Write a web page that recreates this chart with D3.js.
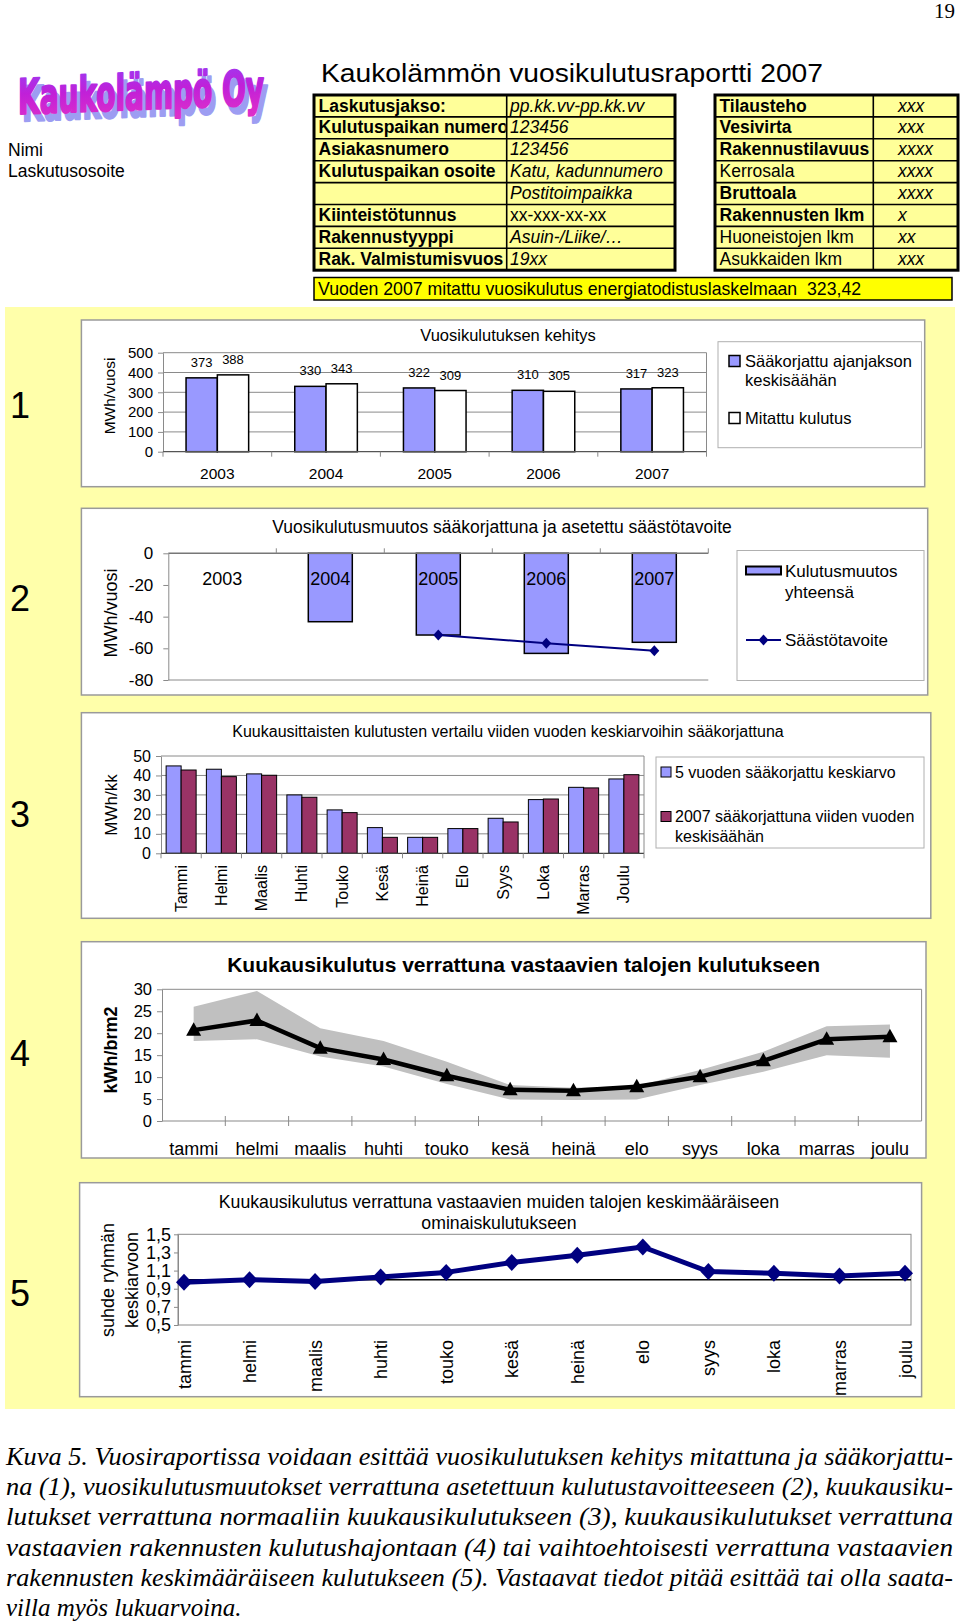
<!DOCTYPE html>
<html><head><meta charset="utf-8">
<script src="https://cdn.jsdelivr.net/npm/d3@7"></script>
<style>
body{margin:0;background:#fff;}
svg{display:block;}
text{font-family:"Liberation Sans",Arial,sans-serif;}
</style>
</head><body>
<svg id="c" width="960" height="1624"></svg>
<script>
// ---------- DATA ----------
const pageNumber = '19';
const companyName = 'Kaukolämpö Oy';
const customerLines = ['Nimi', 'Laskutusosoite'];
const reportTitle = 'Kaukolämmön vuosikulutusraportti 2007';
const leftLabels = ['Laskutusjakso:', 'Kulutuspaikan numero', 'Asiakasnumero', 'Kulutuspaikan osoite', '', 'Kiinteistötunnus', 'Rakennustyyppi', 'Rak. Valmistumisvuos'];
const leftValues = ['pp.kk.vv-pp.kk.vv', '123456', '123456', 'Katu, kadunnumero', 'Postitoimpaikka', 'xx-xxx-xx-xx', 'Asuin-/Liike/…', '19xx'];
const leftValueItalic = [true, true, true, true, true, false, true, true];
const rightLabels = ['Tilausteho', 'Vesivirta', 'Rakennustilavuus', 'Kerrosala', 'Bruttoala', 'Rakennusten lkm', 'Huoneistojen lkm', 'Asukkaiden lkm'];
const rightLabelBold = [true, true, true, false, true, true, false, false];
const rightValues = ['xxx', 'xxx', 'xxxx', 'xxxx', 'xxxx', 'x', 'xx', 'xxx'];
const summaryText = 'Vuoden 2007 mitattu vuosikulutus energiatodistuslaskelmaan  323,42';

// chart 1
const chart1Title = 'Vuosikulutuksen kehitys';
const years = ['2003', '2004', '2005', '2006', '2007'];
const weatherCorrected = [373, 330, 322, 310, 317];
const measured = [388, 343, 309, 305, 323];
const chart1Legend = [['Sääkorjattu ajanjakson', 'keskisäähän'], ['Mitattu kulutus']];
const chart1Ticks = [0, 100, 200, 300, 400, 500];

// chart 2
const chart2Title = 'Vuosikulutusmuutos sääkorjattuna ja asetettu säästötavoite';
const totalChange = [0, -43.2, -51.6, -63.2, -56.2];
const savingTarget = [null, null, -51.6, -56.8, -61.5];
const chart2Legend = [['Kulutusmuutos', 'yhteensä'], ['Säästötavoite']];
const chart2Ticks = [0, -20, -40, -60, -80];

// chart 3
const chart3Title = 'Kuukausittaisten kulutusten vertailu viiden vuoden keskiarvoihin sääkorjattuna';
const monthsCap = ['Tammi', 'Helmi', 'Maalis', 'Huhti', 'Touko', 'Kesä', 'Heinä', 'Elo', 'Syys', 'Loka', 'Marras', 'Joulu'];
const avg5Years = [44.9, 43.2, 40.8, 30.0, 22.3, 13.2, 8.2, 12.7, 18.0, 27.6, 33.9, 38.2];
const corrected2007 = [42.8, 39.4, 40.1, 28.8, 20.9, 8.2, 8.2, 12.7, 16.1, 27.9, 33.6, 40.4];
const chart3Legend = [['5 vuoden sääkorjattu keskiarvo'], ['2007 sääkorjattuna viiden vuoden', 'keskisäähän']];
const chart3Ticks = [0, 10, 20, 30, 40, 50];

// chart 4
const chart4Title = 'Kuukausikulutus verrattuna vastaavien talojen kulutukseen';
const months = ['tammi', 'helmi', 'maalis', 'huhti', 'touko', 'kesä', 'heinä', 'elo', 'syys', 'loka', 'marras', 'joulu'];
const ownConsumption = [20.7, 22.9, 16.6, 14.0, 10.3, 7.1, 6.9, 7.8, 10.1, 13.7, 18.6, 19.2];
const groupHigh = [26.0, 29.6, 21.1, 18.2, 13.5, 8.2, 7.6, 8.0, 11.6, 15.8, 21.6, 22.0];
const groupLow = [18.2, 18.6, 14.7, 12.4, 8.4, 4.9, 4.8, 4.9, 8.2, 11.2, 15.0, 14.4];
const chart4Ticks = [0, 5, 10, 15, 20, 25, 30];

// chart 5
const chart5Title = ['Kuukausikulutus verrattuna vastaavien muiden talojen keskimääräiseen', 'ominaiskulutukseen'];
const ratioToGroup = [0.97, 1.00, 0.98, 1.03, 1.08, 1.19, 1.27, 1.36, 1.09, 1.07, 1.04, 1.07];
const chart5Ticks = [0.5, 0.7, 0.9, 1.1, 1.3, 1.5];

const captionLines = [
  'Kuva 5. Vuosiraportissa voidaan esittää vuosikulutuksen kehitys mitattuna ja sääkorjattu-',
  'na (1), vuosikulutusmuutokset verrattuna asetettuun kulutustavoitteeseen (2), kuukausiku-',
  'lutukset verrattuna normaaliin kuukausikulutukseen (3), kuukausikulutukset verrattuna',
  'vastaavien rakennusten kulutushajontaan (4) tai vaihtoehtoisesti verrattuna vastaavien',
  'rakennusten keskimääräiseen kulutukseen (5). Vastaavat tiedot pitää esittää tai olla saata-',
  'villa myös lukuarvoina.'
];

// ---------- DRAWING ----------
const SANS = '"Liberation Sans", Arial, sans-serif';
const svg = d3.select('#c');
const defs = svg.append('defs');
const fmtComma = d3.formatLocale({decimal: ',', thousands: ' ', grouping: [3], currency: ['', '']}).format('.1f');
const GRID = '#8a8a8a';

function txt(parent, x, y, s, size, opts = {}) {
  const t = parent.append('text').attr('x', x).attr('y', y).text(s)
    .style('font-size', size + 'px').attr('fill', opts.fill || '#000');
  if (opts.anchor) t.attr('text-anchor', opts.anchor);
  if (opts.bold) t.style('font-weight', 'bold');
  if (opts.italic) t.style('font-style', 'italic');
  if (opts.family) t.style('font-family', opts.family);
  if (opts.pre) t.style('white-space', 'pre');
  return t;
}
function styleAxis(g, size) {
  g.attr('font-family', SANS).attr('font-size', size);
  g.selectAll('text').attr('fill', '#000');
  g.selectAll('line').attr('stroke', GRID);
  g.select('.domain').attr('stroke', GRID);
}
function chartBox(x, y, w, h) {
  svg.append('rect').attr('x', x).attr('y', y).attr('width', w).attr('height', h)
    .attr('fill', '#fff').attr('stroke', '#9a9a9a').attr('stroke-width', 1.5);
}
function legendBox(x, y, w, h) {
  svg.append('rect').attr('x', x).attr('y', y).attr('width', w).attr('height', h)
    .attr('fill', '#fff').attr('stroke', '#b0b0b0').attr('stroke-width', 1);
  return svg.append('g');
}
const plainFmt = d => String(d);

// page number
txt(svg, 955, 18, pageNumber, 21, {anchor: 'end', family: '"Liberation Serif", serif'});

// logo
const grad = defs.append('linearGradient').attr('id', 'logoGrad').attr('x1', 0).attr('y1', 0).attr('x2', 0).attr('y2', 1);
grad.append('stop').attr('offset', '0%').attr('stop-color', '#9a3cf4');
grad.append('stop').attr('offset', '45%').attr('stop-color', '#c020d8');
grad.append('stop').attr('offset', '100%').attr('stop-color', '#e030c8');
const logo = svg.append('g').attr('transform', 'translate(18,114) skewY(-2.2) scale(1,1.35)');
[['#9d9df2', 4, 5.5], ['url(#logoGrad)', 0, 0]].forEach(([fill, dx, dy]) => {
  logo.append('text').attr('x', dx).attr('y', dy).text(companyName)
    .attr('fill', fill).attr('stroke', fill).attr('stroke-width', 1.6).attr('stroke-linejoin', 'round')
    .style('font-family', '"Liberation Sans Narrow","DejaVu Sans Condensed","Liberation Sans",sans-serif')
    .style('font-weight', 'bold').style('font-size', '36px')
    .attr('textLength', 246).attr('lengthAdjust', 'spacingAndGlyphs');
});
customerLines.forEach((s, i) => txt(svg, 8, 156 + i * 21, s, 17.5));

// title
txt(svg, 321, 82, reportTitle, 25).attr('textLength', 502).attr('lengthAdjust', 'spacingAndGlyphs');

// tables
const rowTop = 95, rowH = 21.9, nRows = 8;
function drawTable(x0, xs, x2, labels, values, labelBold, valueItalic, valueX, id) {
  const g = svg.append('g');
  g.append('rect').attr('x', x0).attr('y', rowTop).attr('width', x2 - x0).attr('height', rowH * nRows).attr('fill', '#FFFF99');
  defs.append('clipPath').attr('id', id).append('rect').attr('x', x0).attr('y', rowTop).attr('width', xs - x0 - 1).attr('height', rowH * nRows);
  const lg = g.append('g').attr('clip-path', `url(#${id})`);
  labels.forEach((s, i) => {
    const y = rowTop + i * rowH + 16.5;
    txt(lg, x0 + 4.5, y, s, 17.5, {bold: labelBold[i]});
    txt(g, valueX, y, values[i], 17.5, {italic: valueItalic[i]});
  });
  for (let i = 1; i < nRows; i++) {
    g.append('line').attr('x1', x0).attr('x2', x2).attr('y1', rowTop + i * rowH).attr('y2', rowTop + i * rowH).attr('stroke', '#000').attr('stroke-width', 1.6);
  }
  g.append('line').attr('x1', xs).attr('x2', xs).attr('y1', rowTop).attr('y2', rowTop + rowH * nRows).attr('stroke', '#000').attr('stroke-width', 1.6);
  g.append('rect').attr('x', x0).attr('y', rowTop).attr('width', x2 - x0).attr('height', rowH * nRows).attr('fill', 'none').attr('stroke', '#000').attr('stroke-width', 3);
}
drawTable(314, 506.7, 675, leftLabels, leftValues, leftLabels.map(() => true), leftValueItalic, 510, 'clipL');
drawTable(715, 873.3, 958, rightLabels, rightValues, rightLabelBold, rightValues.map(() => true), 898, 'clipR');

// summary bar
svg.append('rect').attr('x', 314).attr('y', 277.5).attr('width', 638).attr('height', 22.5).attr('fill', '#FFFF00').attr('stroke', '#000').attr('stroke-width', 1.5);
txt(svg, 318, 295, summaryText, 17.7, {pre: true});

// yellow panel
svg.append('rect').attr('x', 5).attr('y', 307).attr('width', 950).attr('height', 1102).attr('fill', '#FFFFAA');

// big section numbers
[['1', 405], ['2', 598], ['3', 814], ['4', 1053], ['5', 1293]].forEach(([s, y]) => txt(svg, 20, y + 13, s, 36, {anchor: 'middle'}));

// ---------- CHART 1 ----------
chartBox(81.4, 320, 843.3, 166.7);
txt(svg, 508, 340.5, chart1Title, 16.5, {anchor: 'middle'});
{
  const L = 163, R = 706.5, T = 352.7, B = 451.7;
  const x = d3.scaleBand().domain(years).range([L, R]);
  const y = d3.scaleLinear().domain([0, 500]).range([B, T]);
  const g = svg.append('g');
  chart1Ticks.filter(t => t > 0).forEach(t => g.append('line').attr('x1', L).attr('x2', R).attr('y1', y(t)).attr('y2', y(t)).attr('stroke', GRID));
  g.append('line').attr('x1', R).attr('x2', R).attr('y1', T).attr('y2', B).attr('stroke', GRID);
  const bw = 31.3;
  years.forEach((yr, i) => {
    const c = x(yr) + x.bandwidth() / 2;
    g.append('rect').attr('x', c - bw).attr('y', y(weatherCorrected[i])).attr('width', bw).attr('height', B - y(weatherCorrected[i]))
      .attr('fill', '#9999FF').attr('stroke', '#000').attr('stroke-width', 1.5);
    g.append('rect').attr('x', c).attr('y', y(measured[i])).attr('width', bw).attr('height', B - y(measured[i]))
      .attr('fill', '#FFFFFF').attr('stroke', '#000').attr('stroke-width', 1.5);
    txt(g, c - bw / 2, y(weatherCorrected[i]) - 11, weatherCorrected[i], 13, {anchor: 'middle'});
    txt(g, c + bw / 2, y(measured[i]) - 11, measured[i], 13, {anchor: 'middle'});
    txt(g, c, 479, yr, 15.5, {anchor: 'middle'});
  });
  const ya = g.append('g').attr('transform', `translate(${L},0)`).call(d3.axisLeft(y).tickValues(chart1Ticks).tickFormat(plainFmt).tickSize(5).tickPadding(5).tickSizeOuter(0));
  styleAxis(ya, 15);
  g.append('line').attr('x1', L).attr('x2', R).attr('y1', B).attr('y2', B).attr('stroke', '#555').attr('stroke-width', 1.2);
  for (let i = 0; i <= years.length; i++) {
    const xx = L + i * x.bandwidth();
    g.append('line').attr('x1', xx).attr('x2', xx).attr('y1', B).attr('y2', B + 5).attr('stroke', GRID);
  }
  txt(g, 0, 0, 'MWh/vuosi', 15.5, {anchor: 'middle'}).attr('transform', `translate(115,396) rotate(-90)`);
  const lg = legendBox(718, 341.7, 203.5, 106);
  lg.append('rect').attr('x', 729).attr('y', 355.5).attr('width', 11).attr('height', 11).attr('fill', '#9999FF').attr('stroke', '#000').attr('stroke-width', 1.5);
  lg.append('rect').attr('x', 729).attr('y', 412.5).attr('width', 11).attr('height', 11).attr('fill', '#fff').attr('stroke', '#000').attr('stroke-width', 1.5);
  chart1Legend[0].forEach((s, i) => txt(lg, 745, 366.5 + i * 19, s, 16.5));
  chart1Legend[1].forEach((s, i) => txt(lg, 745, 423.5 + i * 19, s, 16.5));
}

// ---------- CHART 2 ----------
chartBox(81.4, 508.3, 846.3, 186.7);
txt(svg, 502, 533, chart2Title, 17.5, {anchor: 'middle'});
{
  const L = 168.3, R = 708.3, T = 553.3, B = 680;
  const x = d3.scaleBand().domain(years).range([L, R]);
  const y = d3.scaleLinear().domain([-80, 0]).range([B, T]);
  const g = svg.append('g');
  g.append('line').attr('x1', L).attr('x2', R).attr('y1', B).attr('y2', B).attr('stroke', GRID);
  const bw = 44;
  years.forEach((yr, i) => {
    const c = x(yr) + x.bandwidth() / 2;
    if (totalChange[i] < 0) {
      g.append('rect').attr('x', c - bw / 2).attr('y', y(0)).attr('width', bw).attr('height', y(totalChange[i]) - y(0))
        .attr('fill', '#9999FF').attr('stroke', '#000').attr('stroke-width', 1.5);
    }
  });
  years.forEach((yr, i) => txt(g, x(yr) + x.bandwidth() / 2, y(-15.8) + 6.5, yr, 18, {anchor: 'middle'}));
  const ya = g.append('g').attr('transform', `translate(${L},0)`).call(d3.axisLeft(y).tickValues(chart2Ticks).tickFormat(plainFmt).tickSize(5).tickPadding(10).tickSizeOuter(0));
  styleAxis(ya, 17);
  g.append('line').attr('x1', L).attr('x2', R).attr('y1', T).attr('y2', T).attr('stroke', '#777').attr('stroke-width', 1.5);
  for (let i = 1; i <= years.length; i++) {
    const xx = L + i * x.bandwidth();
    g.append('line').attr('x1', xx).attr('x2', xx).attr('y1', T - 5).attr('y2', T).attr('stroke', GRID);
  }
  const pts = years.map((yr, i) => [x(yr) + x.bandwidth() / 2, savingTarget[i]]).filter(d => d[1] != null);
  g.append('path').attr('d', d3.line().x(d => d[0]).y(d => y(d[1]))(pts)).attr('fill', 'none').attr('stroke', '#000080').attr('stroke-width', 2);
  const dia = (cx, cy, hw, hh) => `M${cx},${cy - hh}L${cx + hw},${cy}L${cx},${cy + hh}L${cx - hw},${cy}Z`;
  pts.forEach(d => g.append('path').attr('d', dia(d[0], y(d[1]), 5, 5.5)).attr('fill', '#000080'));
  txt(g, 0, 0, 'MWh/vuosi', 18, {anchor: 'middle'}).attr('transform', `translate(117,613) rotate(-90)`);
  const lg = legendBox(737, 550.5, 187, 130);
  lg.append('rect').attr('x', 746).attr('y', 566.5).attr('width', 35).attr('height', 8).attr('fill', '#9999FF').attr('stroke', '#000').attr('stroke-width', 2);
  chart2Legend[0].forEach((s, i) => txt(lg, 785, 576.5 + i * 21.5, s, 17));
  lg.append('line').attr('x1', 746).attr('x2', 781).attr('y1', 640).attr('y2', 640).attr('stroke', '#000080').attr('stroke-width', 2);
  lg.append('path').attr('d', dia(763.5, 640, 5, 5.5)).attr('fill', '#000080');
  chart2Legend[1].forEach((s, i) => txt(lg, 785, 646 + i * 21.5, s, 17));
}

// ---------- CHART 3 ----------
chartBox(81.4, 712.7, 849.4, 205.6);
txt(svg, 508, 736.5, chart3Title, 16, {anchor: 'middle'});
{
  const L = 161, R = 644, T = 756, B = 853.3;
  const x = d3.scaleBand().domain(monthsCap).range([L, R]);
  const y = d3.scaleLinear().domain([0, 50]).range([B, T]);
  const g = svg.append('g');
  chart3Ticks.filter(t => t > 0).forEach(t => g.append('line').attr('x1', L).attr('x2', R).attr('y1', y(t)).attr('y2', y(t)).attr('stroke', GRID));
  g.append('line').attr('x1', R).attr('x2', R).attr('y1', T).attr('y2', B).attr('stroke', GRID);
  const bw = 15;
  monthsCap.forEach((m, i) => {
    const c = x(m) + x.bandwidth() / 2;
    g.append('rect').attr('x', c - bw).attr('y', y(avg5Years[i])).attr('width', bw).attr('height', B - y(avg5Years[i]))
      .attr('fill', '#9999FF').attr('stroke', '#000').attr('stroke-width', 1);
    g.append('rect').attr('x', c).attr('y', y(corrected2007[i])).attr('width', bw).attr('height', B - y(corrected2007[i]))
      .attr('fill', '#993366').attr('stroke', '#000').attr('stroke-width', 1);
    txt(g, 0, 0, m, 16, {anchor: 'end'}).attr('transform', `translate(${c + 5.5},865) rotate(-90)`);
  });
  const ya = g.append('g').attr('transform', `translate(${L},0)`).call(d3.axisLeft(y).tickValues(chart3Ticks).tickFormat(plainFmt).tickSize(5).tickPadding(5).tickSizeOuter(0));
  styleAxis(ya, 16);
  g.append('line').attr('x1', L).attr('x2', R).attr('y1', B).attr('y2', B).attr('stroke', '#444').attr('stroke-width', 1.2);
  for (let i = 0; i <= monthsCap.length; i++) {
    const xx = L + i * x.bandwidth();
    g.append('line').attr('x1', xx).attr('x2', xx).attr('y1', B).attr('y2', B + 5).attr('stroke', GRID);
  }
  txt(g, 0, 0, 'MWh/kk', 17, {anchor: 'middle'}).attr('transform', `translate(117,805) rotate(-90)`);
  const lg = legendBox(656, 757, 268, 91);
  lg.append('rect').attr('x', 661).attr('y', 767).attr('width', 10).attr('height', 10).attr('fill', '#9999FF').attr('stroke', '#000');
  lg.append('rect').attr('x', 661).attr('y', 811.5).attr('width', 10).attr('height', 10).attr('fill', '#993366').attr('stroke', '#000');
  chart3Legend[0].forEach((s, i) => txt(lg, 675, 777.5 + i * 19.5, s, 16));
  chart3Legend[1].forEach((s, i) => txt(lg, 675, 822 + i * 19.5, s, 16));
}

// ---------- CHART 4 ----------
chartBox(81.4, 941.7, 844.6, 216.3);
txt(svg, 523.6, 972, chart4Title, 21, {anchor: 'middle', bold: true});
{
  const L = 162, R = 921.6, T = 989.3, B = 1121;
  const x = d3.scaleBand().domain(months).range([L, R]);
  const y = d3.scaleLinear().domain([0, 30]).range([B, T]);
  const cx = m => x(m) + x.bandwidth() / 2;
  const g = svg.append('g');
  g.append('line').attr('x1', L).attr('x2', R).attr('y1', T).attr('y2', T).attr('stroke', GRID);
  g.append('line').attr('x1', R).attr('x2', R).attr('y1', T).attr('y2', B).attr('stroke', GRID);
  const area = d3.area().x((d, i) => cx(months[i])).y0((d, i) => y(groupLow[i])).y1(d => y(d));
  g.append('path').attr('d', area(groupHigh)).attr('fill', '#C0C0C0');
  const ya = g.append('g').attr('transform', `translate(${L},0)`).call(d3.axisLeft(y).tickValues(chart4Ticks).tickFormat(plainFmt).tickSize(5).tickPadding(5).tickSizeOuter(0));
  styleAxis(ya, 16.5);
  g.append('line').attr('x1', L).attr('x2', R).attr('y1', B).attr('y2', B).attr('stroke', GRID).attr('stroke-width', 1.2);
  for (let i = 1; i < months.length; i++) {
    const xx = L + i * x.bandwidth();
    g.append('line').attr('x1', xx).attr('x2', xx).attr('y1', B - 5).attr('y2', B + 5).attr('stroke', GRID);
  }
  const line = d3.line().x((d, i) => cx(months[i])).y(d => y(d));
  g.append('path').attr('d', line(ownConsumption)).attr('fill', 'none').attr('stroke', '#000').attr('stroke-width', 4.5).attr('stroke-linejoin', 'round');
  ownConsumption.forEach((v, i) => {
    const px = cx(months[i]), py = y(v);
    g.append('path').attr('d', `M${px},${py - 8}L${px + 7.5},${py + 5.5}L${px - 7.5},${py + 5.5}Z`).attr('fill', '#000');
  });
  months.forEach(m => txt(g, cx(m), 1154.5, m, 18, {anchor: 'middle'}));
  txt(g, 0, 0, 'kWh/brm2', 18, {anchor: 'middle', bold: true}).attr('transform', `translate(117,1050) rotate(-90)`);
}

// ---------- CHART 5 ----------
chartBox(79.6, 1182.7, 842, 214);
chart5Title.forEach((s, i) => txt(svg, 499, 1207.5 + i * 21.6, s, 17.7, {anchor: 'middle'}));
{
  const L = 178, R = 911, T = 1234.3, B = 1325;
  const x = d3.scalePoint().domain(months).range([184, 905]);
  const y = d3.scaleLinear().domain([0.5, 1.5]).range([B, T]);
  const g = svg.append('g');
  g.append('rect').attr('x', L).attr('y', T).attr('width', R - L).attr('height', B - T).attr('fill', 'none').attr('stroke', GRID);
  g.append('line').attr('x1', L).attr('x2', R).attr('y1', y(1)).attr('y2', y(1)).attr('stroke', '#000').attr('stroke-width', 1.5);
  const ya = g.append('g').attr('transform', `translate(${L},0)`).call(d3.axisLeft(y).tickValues(chart5Ticks).tickFormat(fmtComma).tickSize(4).tickPadding(3).tickSizeOuter(0));
  styleAxis(ya, 18);
  const line = d3.line().x((d, i) => x(months[i])).y(d => y(d));
  g.append('path').attr('d', line(ratioToGroup)).attr('fill', 'none').attr('stroke', '#000080').attr('stroke-width', 5).attr('stroke-linejoin', 'round');
  ratioToGroup.forEach((v, i) => {
    const px = x(months[i]), py = y(v);
    g.append('path').attr('d', `M${px},${py - 8.5}L${px + 8},${py}L${px},${py + 8.5}L${px - 8},${py}Z`).attr('fill', '#000080');
  });
  months.forEach(m => txt(g, 0, 0, m, 18, {anchor: 'end'}).attr('transform', `translate(${x(m) + 6.5},1340) rotate(-90)`));
  txt(g, 0, 0, 'suhde ryhmän', 18, {anchor: 'middle'}).attr('transform', `translate(114,1280) rotate(-90)`);
  txt(g, 0, 0, 'keskiarvoon', 18, {anchor: 'middle'}).attr('transform', `translate(138,1280) rotate(-90)`);
}

// ---------- CAPTION ----------
captionLines.forEach((s, i) => {
  const t = txt(svg, 6, 1465 + i * 30.2, s, 25, {italic: true, family: '"Liberation Serif","Times New Roman",serif'});
  if (i < captionLines.length - 1) t.attr('textLength', 947).attr('lengthAdjust', 'spacingAndGlyphs');
});
</script>
</body></html>
